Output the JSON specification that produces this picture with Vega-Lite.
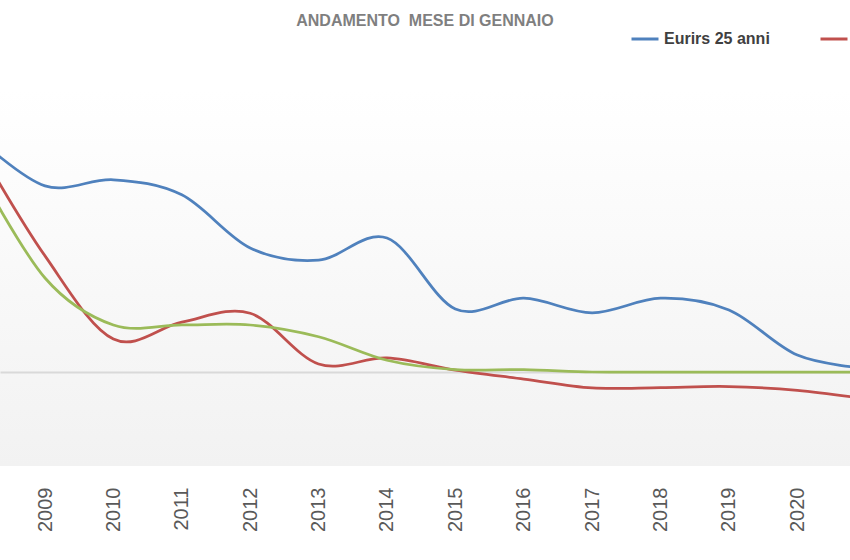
{
  "$schema": "https://vega.github.io/schema/vega-lite/v6.json",
  "width": 850,
  "height": 376,
  "autosize": {"type": "none"},
  "padding": {"left": 0, "top": 90, "right": 0, "bottom": 94},
  "background": "#ffffff",
  "title": {
    "text": "ANDAMENTO\u00a0 MESE DI GENNAIO",
    "anchor": "middle",
    "font": "Liberation Sans",
    "fontSize": 16,
    "fontWeight": "bold",
    "color": "#7f7f7f",
    "offset": -5
  },
  "config": {
    "view": {
      "stroke": null,
      "fill": {
        "gradient": "linear",
        "x1": 0, "y1": 0, "x2": 0, "y2": 1,
        "stops": [
          {"offset": 0, "color": "#ffffff"},
          {"offset": 1, "color": "#f2f2f2"}
        ]
      }
    }
  },
  "data": {
    "values": [
      {"anno": 2008, "serie": "Eurirs 25 anni", "valore": 5.0},
      {"anno": 2009, "serie": "Eurirs 25 anni", "valore": 3.96},
      {"anno": 2010, "serie": "Eurirs 25 anni", "valore": 4.09},
      {"anno": 2011, "serie": "Eurirs 25 anni", "valore": 3.77},
      {"anno": 2012, "serie": "Eurirs 25 anni", "valore": 2.64},
      {"anno": 2013, "serie": "Eurirs 25 anni", "valore": 2.38},
      {"anno": 2014, "serie": "Eurirs 25 anni", "valore": 2.85},
      {"anno": 2015, "serie": "Eurirs 25 anni", "valore": 1.34},
      {"anno": 2016, "serie": "Eurirs 25 anni", "valore": 1.57},
      {"anno": 2017, "serie": "Eurirs 25 anni", "valore": 1.26},
      {"anno": 2018, "serie": "Eurirs 25 anni", "valore": 1.57},
      {"anno": 2019, "serie": "Eurirs 25 anni", "valore": 1.32},
      {"anno": 2020, "serie": "Eurirs 25 anni", "valore": 0.36},
      {"anno": 2021, "serie": "Eurirs 25 anni", "valore": 0.08},
      {"anno": 2008, "serie": "Euribor 3 mesi", "valore": 4.85},
      {"anno": 2009, "serie": "Euribor 3 mesi", "valore": 2.47},
      {"anno": 2010, "serie": "Euribor 3 mesi", "valore": 0.70},
      {"anno": 2011, "serie": "Euribor 3 mesi", "valore": 1.06},
      {"anno": 2012, "serie": "Euribor 3 mesi", "valore": 1.25},
      {"anno": 2013, "serie": "Euribor 3 mesi", "valore": 0.17},
      {"anno": 2014, "serie": "Euribor 3 mesi", "valore": 0.30},
      {"anno": 2015, "serie": "Euribor 3 mesi", "valore": 0.04},
      {"anno": 2016, "serie": "Euribor 3 mesi", "valore": -0.15},
      {"anno": 2017, "serie": "Euribor 3 mesi", "valore": -0.34},
      {"anno": 2018, "serie": "Euribor 3 mesi", "valore": -0.33},
      {"anno": 2019, "serie": "Euribor 3 mesi", "valore": -0.31},
      {"anno": 2020, "serie": "Euribor 3 mesi", "valore": -0.39},
      {"anno": 2021, "serie": "Euribor 3 mesi", "valore": -0.57},
      {"anno": 2008, "serie": "Tasso BCE", "valore": 4.35},
      {"anno": 2009, "serie": "Tasso BCE", "valore": 2.0},
      {"anno": 2010, "serie": "Tasso BCE", "valore": 1.0},
      {"anno": 2011, "serie": "Tasso BCE", "valore": 1.0},
      {"anno": 2012, "serie": "Tasso BCE", "valore": 1.0},
      {"anno": 2013, "serie": "Tasso BCE", "valore": 0.75},
      {"anno": 2014, "serie": "Tasso BCE", "valore": 0.25},
      {"anno": 2015, "serie": "Tasso BCE", "valore": 0.05},
      {"anno": 2016, "serie": "Tasso BCE", "valore": 0.05},
      {"anno": 2017, "serie": "Tasso BCE", "valore": 0.0},
      {"anno": 2018, "serie": "Tasso BCE", "valore": 0.0},
      {"anno": 2019, "serie": "Tasso BCE", "valore": 0.0},
      {"anno": 2020, "serie": "Tasso BCE", "valore": 0.0},
      {"anno": 2021, "serie": "Tasso BCE", "valore": 0.0}
    ]
  },
  "mark": {"type": "line", "interpolate": "cardinal", "tension": 0, "clip": true, "strokeWidth": 2.75},
  "encoding": {
    "x": {
      "field": "anno",
      "type": "quantitative",
      "scale": {"domain": [2008.342, 2020.77], "nice": false, "zero": false},
      "axis": {
        "values": [2009, 2010, 2011, 2012, 2013, 2014, 2015, 2016, 2017, 2018, 2019, 2020],
        "format": "d",
        "title": null,
        "domain": false,
        "ticks": false,
        "grid": false,
        "labelAngle": -90,
        "labelPadding": 21,
        "labelFont": "Liberation Sans",
        "labelFontSize": 20,
        "labelColor": "#595959",
        "labelOverlap": false
      }
    },
    "y": {
      "field": "valore",
      "type": "quantitative",
      "scale": {"domain": [-2, 6], "nice": false},
      "axis": {
        "values": [0],
        "grid": true,
        "gridColor": "#d9d9d9",
        "gridWidth": 2,
        "domain": false,
        "ticks": false,
        "labels": false,
        "title": null
      }
    },
    "color": {
      "field": "serie",
      "type": "nominal",
      "scale": {
        "domain": ["Eurirs 25 anni", "Euribor 3 mesi", "Tasso BCE"],
        "range": ["#4f81bd", "#c0504d", "#9bbb59"]
      },
      "legend": {
        "orient": "none",
        "legendX": 630,
        "legendY": -66,
        "direction": "horizontal",
        "title": null,
        "symbolType": "stroke",
        "symbolSize": 729,
        "symbolStrokeWidth": 3,
        "labelFont": "Liberation Sans",
        "labelFontSize": 16,
        "labelFontWeight": "bold",
        "labelColor": "#404040",
        "labelOffset": 4,
        "labelLimit": 300,
        "columnPadding": 44,
        "padding": 0
      }
    }
  }
}
